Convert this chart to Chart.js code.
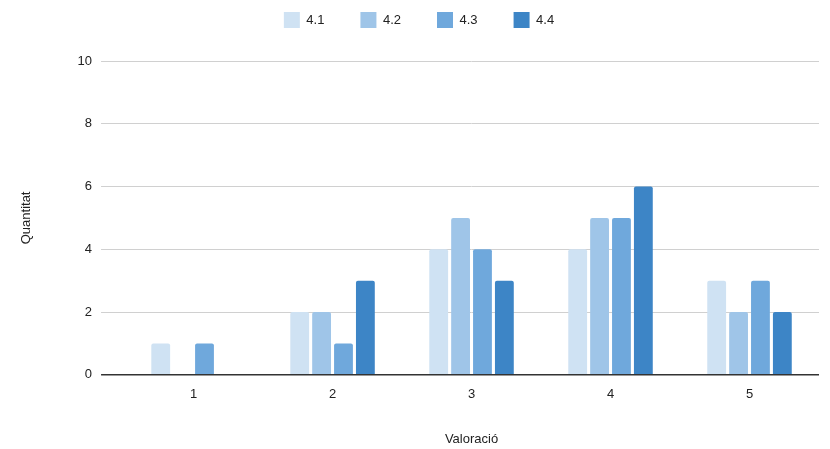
<!DOCTYPE html>
<html>
<head>
<meta charset="utf-8">
<script src="https://cdn.jsdelivr.net/npm/chart.js@4"></script>
<style>
  html, body { margin: 0; padding: 0; background: #fff; }
  #wrap { width: 830px; height: 449px; }
</style>
</head>
<body>
<div id="wrap"><canvas id="barCanvas"></canvas></div>
<script>
// Valoracions (eix X) i recomptes per pregunta
const categories = ["1", "2", "3", "4", "5"];
const seriesNames = ["4.1", "4.2", "4.3", "4.4"];
const values41 = [1, 2, 4, 4, 3];
const values42 = [0, 2, 5, 5, 2];
const values43 = [1, 1, 4, 5, 3];
const values44 = [0, 3, 3, 6, 2];
const yTicks = [0, 2, 4, 6, 8, 10];

const colors = ["#cfe2f3", "#9fc5e8", "#6fa8dc", "#3d85c6"];
const seriesValues = [values41, values42, values43, values44];

Chart.defaults.font.family = "'Liberation Sans', Arial, sans-serif";
Chart.defaults.color = "#222";

// la llegenda necessita més espai a sota que el que dona el padding
const legendSpacing = {
  id: "legendSpacing",
  beforeInit(chart) {
    const fit = chart.legend.fit;
    chart.legend.fit = function () {
      fit.call(this);
      this.height += 23;
    };
  }
};

const ctx = document.getElementById("barCanvas").getContext("2d");

new Chart(ctx, {
  type: "bar",
  data: {
    labels: categories,
    datasets: seriesNames.map((name, i) => ({
      label: name,
      data: seriesValues[i],
      backgroundColor: colors[i],
      borderRadius: 2,
      borderSkipped: "bottom",
      categoryPercentage: 0.63,
      barPercentage: 0.86
    }))
  },
  plugins: [legendSpacing],
  options: {
    responsive: true,
    maintainAspectRatio: false,
    animation: false,
    layout: { padding: { top: -24, right: 11, bottom: 2, left: 19 } },
    plugins: {
      legend: {
        position: "top",
        labels: {
          boxWidth: 16,
          boxHeight: 16,
          padding: 36,
          font: { size: 13 },
          color: "#222"
        }
      },
      tooltip: { enabled: true }
    },
    scales: {
      x: {
        grid: { display: false },
        border: { display: false },
        ticks: { font: { size: 13 }, padding: 4, color: "#222" },
        title: {
          display: true,
          text: "Valoració",
          font: { size: 13 },
          color: "#222",
          padding: { top: 25, bottom: 0 }
        }
      },
      y: {
        min: 0,
        max: 10,
        afterBuildTicks: axis => { axis.ticks = yTicks.map(v => ({ value: v })); },
        border: { display: false },
        grid: {
          color: c => (c.tick && c.tick.value === 0 ? "#333" : "#d0d0d0"),
          lineWidth: c => (c.tick && c.tick.value === 0 ? 1.5 : 1),
          drawTicks: true,
          tickLength: 23
        },
        ticks: { font: { size: 13 }, padding: 9, color: "#222" },
        title: {
          display: true,
          text: "Quantitat",
          font: { size: 13 },
          color: "#222",
          padding: { top: 0, bottom: 34 }
        }
      }
    }
  }
});
</script>
</body>
</html>
